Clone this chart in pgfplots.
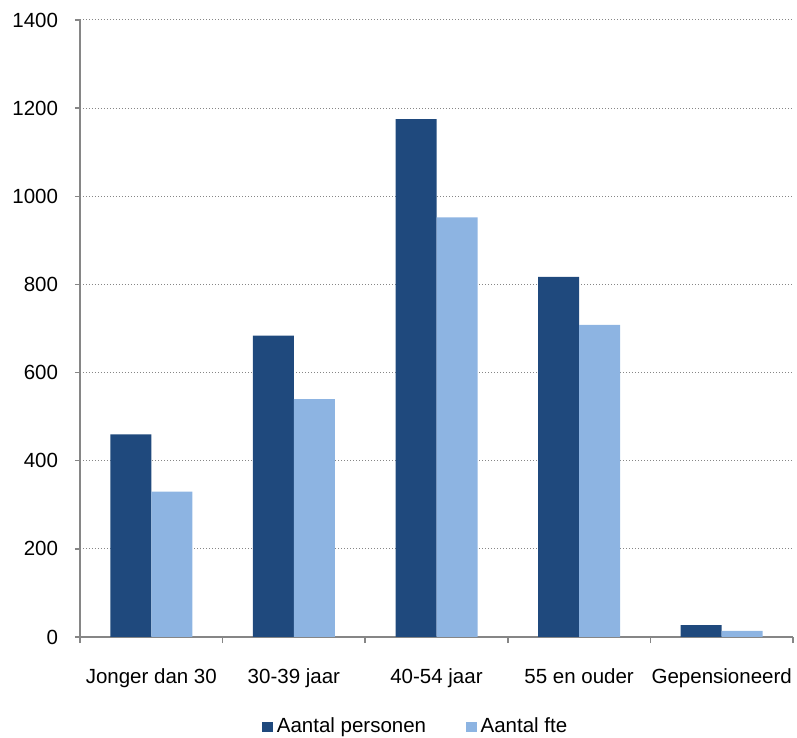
\documentclass[border=0pt]{standalone}
\usepackage{pgfplots}
\pgfplotsset{compat=1.18}
\usepackage{fontspec}
\setmainfont{Liberation Sans}
\definecolor{darkbar}{RGB}{31,73,125}
\definecolor{lightbar}{RGB}{141,180,226}
\definecolor{axgray}{RGB}{134,134,134}
\begin{document}
\fontsize{20.5}{24}\selectfont
\begin{tikzpicture}
\begin{axis}[
 scale only axis, width=713pt, height=617pt,
 ybar=0pt, bar width=41pt,
 xmin=-0.5, xmax=4.5, ymin=0, ymax=1400,
 ytick={0,200,...,1400},
 xtick={0,1,2,3,4},
 xticklabels={Jonger dan 30, 30-39 jaar, 40-54 jaar, 55 en ouder, Gepensioneerd},
 minor xtick={-0.5,0.5,...,4.5},
 axis x line*=bottom, axis y line*=left,
 axis line style={axgray, line width=1.5pt, -},
 tick style={axgray, line width=1.5pt},
 tick align=outside,
 major tick length=5pt,
 minor tick length=6pt,
 major x tick style={draw=none},
 ymajorgrids,
 major grid style={axgray, line width=1pt, dash pattern=on 1.2pt off 1.8pt},
 ticklabel style={font=\fontsize{20.5}{24}\selectfont, text=black},
 /pgf/number format/assume math mode=true,
 /pgf/number format/1000 sep={},
 yticklabel style={xshift=-10pt},
 xticklabel style={yshift=-20pt},
 legend style={at={(0.471,-0.146)}, anchor=center, draw=none, legend columns=2,
   font=\fontsize{20.5}{24}\selectfont,
   /tikz/every odd column/.append style={column sep=2pt},
   /tikz/every even column/.append style={column sep=38pt}},
 legend image code/.code={\fill[#1] (0pt,-5pt) rectangle (10.5pt,5.5pt);},
]
\addplot[fill=darkbar, draw=none] coordinates {(0,460) (1,684) (2,1175) (3,817) (4,27)};
\addplot[fill=lightbar, draw=none] coordinates {(0,330) (1,540) (2,952) (3,708) (4,14)};
\legend{Aantal personen, Aantal fte}
\end{axis}
\pgfresetboundingbox
\path[use as bounding box] ([xshift=-80pt,yshift=-101pt]current axis.south west) rectangle ([xshift=4pt,yshift=20pt]current axis.north east);
\end{tikzpicture}
\end{document}
